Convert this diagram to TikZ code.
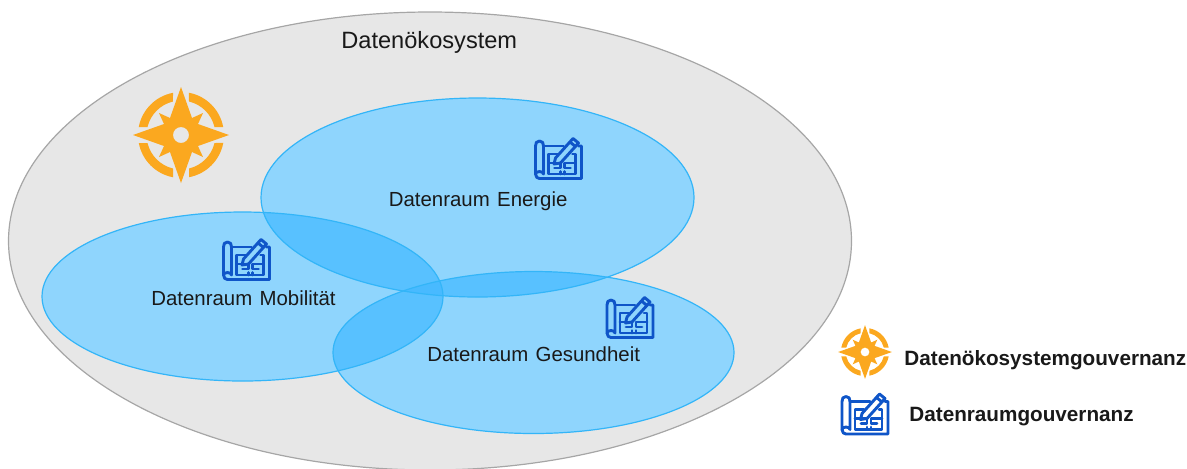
\documentclass[tikz,border=0pt]{standalone}
\usepackage{fontspec}
\setmainfont{Liberation Sans}
\definecolor{eco}{HTML}{E7E7E7}
\definecolor{ecoline}{HTML}{A6A6A6}
\definecolor{roomone}{HTML}{8FD5FD}
\definecolor{roomtwo}{HTML}{58C1FF}
\definecolor{roomthree}{HTML}{48BAFF}
\definecolor{roomline}{HTML}{33B5F8}
\definecolor{compass}{HTML}{FBA81F}
\definecolor{plan}{HTML}{0F55C8}
\tikzset{
  x=0.5pt,y=-0.5pt,
  roomedge/.style={draw=roomline,line width=0.6pt},
  lbl/.style={font=\fontsize{10.2}{12}\selectfont,text=black!90,inner sep=0pt,anchor=base west},
  title/.style={font=\fontsize{11.8}{14}\selectfont,text=black!90,inner sep=0pt,anchor=base west},
  leg/.style={font=\bfseries\fontsize{10.35}{12}\selectfont,text=black!90,inner sep=0pt,anchor=base west},
  pics/compassicon/.style={code={
    \fill[compass,even odd rule]
      (0,-48)--(-11,-17)--(-22,-22)--(-17,-11)--(-48,0)--(-17,11)--(-22,22)--(-11,17)--(0,48)--(11,17)--(22,22)--(17,11)--(48,0)--(17,-11)--(22,-22)--(11,-17)--cycle
      (0,0) circle[radius=8];
    \foreach \a in {0,90,180,270}{
      \fill[compass,rotate=\a]
        (-8,-42.2) arc[start angle=-100.7,end angle=-169.3,radius=43]
        -- (-33.5,-8) arc[start angle=-166.6,end angle=-103.4,radius=34.4] -- cycle;
    }
  }},
  pics/planicon/.style={code={
    \begin{scope}[plan,line width=1.45pt,line join=round,line cap=round]
      \draw (6,3) ..controls (3,3) and (2,5) .. (2,8) -- (2,36) ..controls (2,34.5) and (4,33.5) .. (6,33.5) ..controls (8,33.5) and (10,34.5) .. (10,36) -- (10,8) ..controls (10,5) and (9,3) .. (6,3);
      \draw (2,36) ..controls (2,39) and (4,40.5) .. (6,40.5) -- (48,40.5) -- (48,8) -- (45,8);
      \draw (10,8) -- (30,8);
      \draw (24,16) -- (15,16) -- (15,36) -- (42,36) -- (42,16) -- (39,16);
      \draw (15,25) -- (27,25) -- (27,30) -- (21,30) (42,25) -- (31,25) -- (31,30) -- (37,30)
            (27,36) -- (27,33.5) (31,36) -- (31,33.5);
      \draw (20.5,26) -- (22,20) -- (39.5,0.5) -- (45,5) -- (27,25) -- cycle;
      \draw (36.5,4) -- (42,8.5);
    \end{scope}
  }}
}
\newcommand{\elE}{(477.5,197.5) ellipse [x radius=216.5,y radius=99.5]}
\newcommand{\elM}{(242.5,296.5) ellipse [x radius=200.5,y radius=84.5]}
\newcommand{\elG}{(533.5,352.5) ellipse [x radius=200.5,y radius=81]}
\begin{document}
\begin{tikzpicture}
\useasboundingbox (0,0) rectangle (1187,468);
\begin{scope}
\clip (0,0) rectangle (1187,468);
\draw[draw=ecoline,line width=0.6pt,fill=eco] (430,241) ellipse [x radius=421.5,y radius=229];
\end{scope}
\fill[roomone] \elE;
\fill[roomone] \elM;
\fill[roomone] \elG;
\begin{scope}\clip \elE; \fill[roomtwo] \elM; \fill[roomtwo] \elG; \end{scope}
\begin{scope}\clip \elM; \fill[roomtwo] \elG; \end{scope}
\begin{scope}\clip \elE; \clip \elM; \fill[roomthree] \elG; \end{scope}
\draw[roomedge] \elE;
\draw[roomedge] \elM;
\draw[roomedge] \elG;

\pic at (181,135) {compassicon};
\pic at (533.5,138) {planicon};
\pic at (221.5,239) {planicon};
\pic at (605,297) {planicon};
\pic[scale=0.56] at (865,352) {compassicon};
\pic at (840,393.5) {planicon};

\node[title] (t) at (341,48) {Datenökosystem};
\node[lbl] (e) at (388.5,206) {Datenraum\hspace{0.36em}Energie};
\node[lbl] (m) at (151,305) {Datenraum\hspace{0.36em}Mobilität};
\node[lbl] (g) at (427,361) {Datenraum\hspace{0.36em}Gesundheit};
\node[leg] (l1) at (904,365) {Datenökosystemgouvernanz};
\node[leg] (l2) at (909,421) {Datenraumgouvernanz};
\end{tikzpicture}
\end{document}
